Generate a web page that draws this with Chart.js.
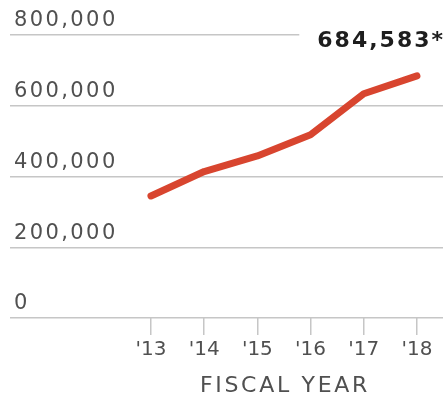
<!DOCTYPE html>
<html>
<head>
<meta charset="utf-8">
<script src="https://cdn.jsdelivr.net/npm/chart.js@4.4.1/dist/chart.umd.min.js"></script>
<style>
  html, body { margin: 0; padding: 0; background: #fff; }
  #wrap { width: 447px; height: 398px; }
</style>
</head>
<body>
<div id="wrap"><canvas id="chart"></canvas></div>
<script>
  // data
  const years = [2013, 2014, 2015, 2016, 2017, 2018];
  const yearLabels = ["'13", "'14", "'15", "'16", "'17", "'18"];
  const enrollment = [345000, 414000, 458000, 518000, 634000, 684583];
  const yTicks = [0, 200000, 400000, 600000, 800000];
  const lastLabel = '684,583*';
  const axisTitle = 'FISCAL YEAR';

  const FONT = '"DejaVu Sans", sans-serif';
  const GRID = '#c6c6c6';
  const TEXT = '#505050';

  // x labels are drawn under the datasets, y labels (ticks.z: 1) above them,
  // so the letter spacing can differ between the two axes
  const textPlugin = {
    id: 'textPlugin',
    beforeDraw(chart) {
      chart.ctx.letterSpacing = '0px';
    },
    afterDatasetsDraw(chart) {
      chart.ctx.letterSpacing = '2.4px';
    },
    afterDraw(chart) {
      const ctx = chart.ctx;
      const xs = chart.scales.x, ys = chart.scales.y;
      const area = chart.chartArea;
      ctx.save();
      // value label at the top right, it breaks the top gridline
      ctx.letterSpacing = '2px';
      ctx.font = 'bold 22px ' + FONT;
      const w = ctx.measureText(lastLabel).width;
      const yTop = ys.getPixelForValue(yTicks[yTicks.length - 1]);
      ctx.fillStyle = '#fff';
      ctx.fillRect(area.right - w - 16, yTop - 4, w + 30, 8);
      ctx.fillStyle = '#1e1e1e';
      ctx.textAlign = 'right';
      ctx.textBaseline = 'middle';
      ctx.fillText(lastLabel, area.right + 2, yTop + 6);
      // axis title under the year ticks
      ctx.letterSpacing = '2.7px';
      ctx.font = '22px ' + FONT;
      ctx.fillStyle = TEXT;
      ctx.textAlign = 'center';
      const mid = (years[0] + years[years.length - 1]) / 2;
      ctx.fillText(axisTitle, xs.getPixelForValue(mid) + 1, area.bottom + 68);
      ctx.restore();
      ctx.letterSpacing = '0px';
    }
  };

  new Chart(document.getElementById('chart'), {
    type: 'line',
    data: {
      datasets: [{
        data: years.map((y, i) => ({ x: y, y: enrollment[i] })),
        borderColor: '#d8452f',
        borderWidth: 7,
        borderCapStyle: 'round',
        borderJoinStyle: 'round',
        pointRadius: 0,
        tension: 0,
        clip: false
      }]
    },
    options: {
      responsive: true,
      maintainAspectRatio: false,
      animation: false,
      layout: { padding: { left: 10, right: 4, top: 35, bottom: 0 } },
      plugins: { legend: { display: false }, tooltip: { enabled: false } },
      scales: {
        x: {
          type: 'linear',
          min: 2010.35,
          max: 2018.49,
          afterBuildTicks: s => { s.ticks = years.map(v => ({ value: v })); },
          afterFit: s => { s.height = 80; },
          border: { display: false },
          grid: { drawOnChartArea: false, drawTicks: true, tickLength: 17, color: GRID, lineWidth: 1.5 },
          ticks: {
            padding: 3,
            color: TEXT,
            font: { family: FONT, size: 20 },
            autoSkip: false,
            maxRotation: 0,
            callback: (v, i) => yearLabels[i]
          }
        },
        y: {
          min: 0,
          max: 800000,
          afterBuildTicks: s => { s.ticks = yTicks.map(v => ({ value: v })); },
          afterFit: s => { s.width = 0; },
          border: { display: false },
          grid: { color: GRID, lineWidth: 1.5, drawTicks: false },
          ticks: {
            z: 1,
            mirror: true,
            padding: 4,
            labelOffset: -14,
            color: TEXT,
            font: { family: FONT, size: 21 },
            callback: v => v.toLocaleString('en-US')
          }
        }
      }
    },
    plugins: [textPlugin]
  });
</script>
</body>
</html>
